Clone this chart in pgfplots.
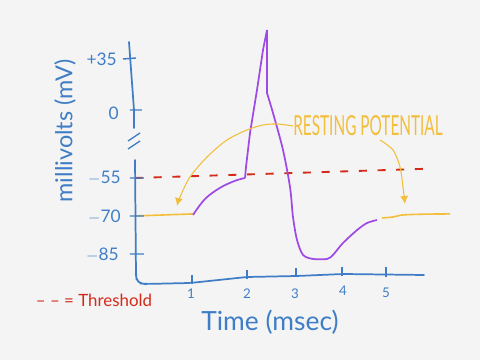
\documentclass[border=0pt]{standalone}
\usepackage{pgfplots}
\pgfplotsset{compat=1.18}
\usepackage{fontspec}
\setmainfont{Lato}
\usetikzlibrary{arrows.meta}
\definecolor{bg}{HTML}{F4F4F4}
\definecolor{hblue}{HTML}{3F7EC6}
\definecolor{hpurple}{HTML}{A04AE6}
\definecolor{hgold}{HTML}{F2BE3C}
\definecolor{hred}{HTML}{D42A1A}
\begin{document}
\begin{tikzpicture}
\fill[bg] (0,0) rectangle (360pt,270pt);
\begin{axis}[
  at={(0,0)}, anchor=south west,
  width=360pt, height=270pt, scale only axis,
  xmin=-2.9588, xmax=6.9381, ymin=-126.937, ymax=15.356,
  hide axis, clip=false]
% resting potential (yellow)
\addplot[hgold, line width=1.2pt] coordinates {(-0.175,-70.0) (1.021,-69.2)};
\addplot[hgold, line width=1.2pt, smooth] coordinates {(4.918,-70.8) (5.15,-70.4) (5.351,-69.6) (5.8,-69.3) (6.320,-69.2)};
% threshold (red dashed)
\addplot[hred, line width=1.4pt, dash pattern=on 6pt off 8pt] coordinates {(-0.175,-55.0) (5.763,-51.4)};
% action potential (purple)
\addplot[hpurple, line width=1.3pt, smooth, tension=0.6] coordinates {
 (1.021,-69.6) (1.268,-63.3) (1.577,-58.9) (1.887,-56.1) (2.093,-55.0)};
\addplot[hpurple, line width=1.3pt] coordinates {
 (2.093,-55.0) (2.113,-50.7) (2.196,-37.2) (2.340,-20.2) (2.464,-4.4) (2.546,3.5) (2.546,-21.4)};
\addplot[hpurple, line width=1.3pt, smooth, tension=0.5] coordinates {
 (2.546,-21.4) (2.670,-29.3) (2.876,-43.9) (3.021,-58.6) (3.082,-70.4) (3.165,-79.5) (3.289,-85.4)
 (3.495,-87.0) (3.784,-87.0) (3.907,-85.4) (4.113,-80.7) (4.402,-75.6) (4.608,-72.8) (4.814,-71.6)};
\end{axis}
\begin{scope}[x=0.75pt, y=-0.75pt, yshift=270pt]
 % axes (hand drawn)
 \draw[hblue, line width=1.3pt, line cap=round] (129,42) -- (134,110) -- (134,128);
 \draw[hblue, line width=1pt] (128,141) -- (140,133) (128,149) -- (140,141);
 \draw[hblue, line width=1.3pt, line cap=round, rounded corners=4pt] (135,160) -- (136,275) -- (137,283) -- (145,284) -- (190,283) -- (247,277) -- (297,276) -- (343,274) -- (424,275);
 % y ticks
 \draw[hblue, line width=1.1pt] (123,59) -- (136,58) (130,110) -- (142,110) (130,178) -- (144,178) (130,216) -- (144,216) (130,254) -- (144,254);
 % x ticks
 \draw[hblue, line width=1.1pt] (192,275) -- (192,284) (247,270) -- (247,279) (296,268) -- (296,277) (342,267) -- (342,276) (386,267) -- (386,277);
 \begin{scope}[every node/.style={text=hblue, font=\fontsize{13}{15}\selectfont, inner sep=0pt}]
 \node[anchor=east] at (117,59) {+35};
 \node[anchor=east] at (119,113) {0};
 \node[anchor=east] at (121,178) {$-$55};
 \node[anchor=east] at (121,217) {$-$70};
 \node[anchor=east] at (119,255) {$-$85};
 \end{scope}
 \begin{scope}[every node/.style={text=hblue, font=\fontsize{10}{12}\selectfont, inner sep=0pt}]
 \node at (191,294) {1};
 \node at (247,294) {2};
 \node at (295,294) {3};
 \node at (343,291) {4};
 \node at (386,293) {5};
 \end{scope}
 \node[text=hblue, inner sep=0pt] at (270,322) {\resizebox{103pt}{!}{Time (msec)}};
 \node[text=hblue, inner sep=0pt, rotate=90] at (65,131) {\resizebox{107pt}{!}{millivolts (mV)}};
 \node[text=hred, inner sep=0pt] at (94,300) {\resizebox{87pt}{!}{-- -- = Threshold}};
 \node[text=hgold, inner sep=0pt] at (368,126) {\resizebox{112pt}{15pt}{RESTING POTENTIAL}};
 % arrows
 \draw[hgold, line width=0.8pt, -{Latex[length=6pt,width=6pt]}] plot[smooth] coordinates {(293,126) (277,124) (263,125) (247,130) (227,140) (207,157) (190,177) (180,197) (177,206)};
 \draw[hgold, line width=0.8pt, -{Latex[length=6pt,width=6pt]}] plot[smooth] coordinates {(380,140) (393,150) (400,167) (403,187) (405,204)};
\end{scope}
\end{tikzpicture}
\end{document}
